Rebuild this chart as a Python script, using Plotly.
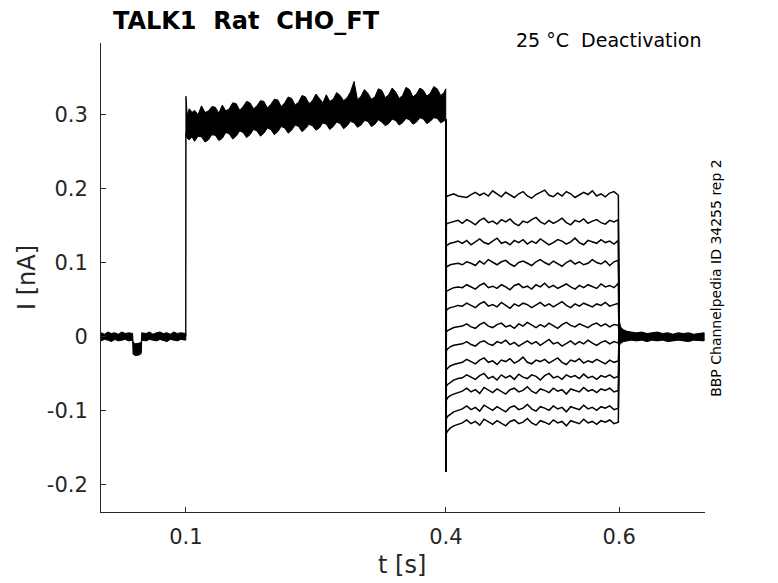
"""TALK1 Rat CHO_FT 失活电流记录 (Plotly)"""
import numpy as np
import plotly.graph_objects as go

# ---- data (time in ms, current in pA; plotted as s and nA) ----
# holding baseline band, with the small test pulse dip
t_base_ms = [2, 6, 10, 14, 18, 22, 26, 30, 34, 38.5,
             39, 42, 46, 48.5, 49, 54, 58, 62, 66, 70,
             74, 78, 82, 86, 90, 94, 99.8]
base_hi = [5, 3, 6, 4, 5, 3, 6, 4, 5, 4,
           -8, -10, -9, -8, 5, 4, 6, 3, 5, 6,
           4, 5, 3, 6, 4, 5, 4]
base_lo = [-6, -4, -5, -7, -4, -6, -5, -4, -6, -5,
           -24, -26, -25, -23, -5, -6, -4, -5, -6, -4,
           -5, -7, -4, -5, -6, -4, -5]

# activating pulse band (all sweeps overlap here)
t_pulse_ms = [99.8, 100, 101.5, 104, 107,
              110, 114, 118, 122, 126, 130, 134, 138, 142, 146,
              150, 154, 158, 162, 166, 170, 174, 178, 182, 186,
              190, 194, 198, 202, 206, 210, 214, 218, 222, 226,
              230, 234, 238, 242, 246, 250, 254, 258, 262, 266,
              270, 274, 278, 282, 286, 290, 294, 298, 302, 306,
              310, 314, 318, 322, 326, 330, 334, 338, 342, 346,
              350, 354, 358, 362, 366, 370, 374, 378, 382, 386,
              390, 394, 398, 399.8]
pulse_hi = [0, 325, 300, 308, 303,
            306, 300, 312, 303, 305, 311, 310, 302, 313, 305,
            308, 316, 315, 306, 311, 318, 316, 308, 312, 319,
            318, 309, 314, 321, 320, 311, 316, 324, 322, 313,
            317, 326, 324, 315, 319, 328, 322, 316, 327, 318,
            321, 330, 326, 319, 323, 331, 345, 320, 325, 334,
            329, 321, 324, 335, 333, 323, 327, 336, 331, 322,
            326, 337, 334, 324, 328, 336, 333, 325, 329, 338,
            335, 326, 330, 335]
pulse_lo = [0, 275, 268, 266, 270,
            264, 271, 270, 263, 266, 273, 272, 265, 268, 276,
            274, 267, 271, 278, 276, 269, 273, 280, 278, 271,
            275, 282, 280, 273, 277, 284, 282, 275, 279, 286,
            284, 277, 281, 287, 285, 279, 282, 289, 287, 280,
            284, 290, 288, 281, 285, 291, 289, 283, 286, 292,
            291, 284, 287, 293, 290, 285, 288, 294, 292, 286,
            289, 295, 293, 287, 290, 296, 294, 288, 291, 296,
            295, 289, 292, 293]

step_spike_pA = -183   # capacitive spike at the start of the test steps
tail_start_pA = 3

# test steps (13 sweeps)
t_test_ms = [400.5, 402, 405, 409, 414,
             419, 424, 429, 434, 439, 444, 449, 454, 459, 464,
             469, 474, 479, 484, 489, 494, 499, 504, 509, 514,
             519, 524, 529, 534, 539, 544, 549, 554, 559, 564,
             569, 574, 579, 584, 589, 594, 599]
test_sweeps = [
    [189, 190, 191, 193, 190,
     189, 188, 192, 195, 191, 194, 190, 197, 193, 189,
     195, 191, 188, 193, 196, 190, 187, 192, 195, 198,
     191, 189, 194, 190, 196, 193, 188, 191, 195, 192,
     197, 190, 193, 189, 194, 196, 191],
    [152, 153, 154, 155, 157,
     153, 158, 155, 151, 157, 160, 154, 156, 152, 158,
     155, 159, 153, 150, 156, 154, 158, 161, 155, 152,
     157, 153, 156, 160, 154, 151, 157, 155, 159, 153,
     156, 158, 154, 152, 157, 155, 158],
    [123, 124, 126, 127, 129,
     126, 130, 124, 128, 132, 127, 125, 129, 133, 126,
     128, 124, 130, 127, 131, 125, 129, 126, 132, 128,
     124, 127, 131, 129, 125, 128, 133, 127, 124, 130,
     128, 126, 131, 127, 129, 125, 130],
    [94, 95, 97, 98, 99,
     97, 101, 99, 96, 102, 98, 104, 100, 97, 101,
     103, 98, 95, 100, 102, 99, 96, 101, 104, 100,
     97, 102, 99, 95, 100, 103, 98, 101, 97, 99,
     104, 100, 98, 102, 96, 101, 103],
    [61, 62, 64, 66, 67,
     66, 70, 67, 64, 69, 72, 66, 68, 65, 70,
     67, 63, 69, 71, 66, 68, 64, 70, 67, 72,
     66, 69, 65, 68, 71, 67, 64, 69, 66, 70,
     68, 65, 71, 67, 69, 66, 72],
    [35, 37, 39, 40, 42,
     41, 45, 42, 39, 44, 47, 41, 43, 40, 46,
     42, 38, 44, 41, 45, 43, 39, 42, 46, 41,
     44, 40, 43, 47, 42, 39, 44, 41, 45, 43,
     40, 44, 42, 46, 41, 43, 45],
    [6, 8, 10, 12, 13,
     14, 17, 13, 11, 16, 19, 14, 12, 16, 18,
     13, 15, 11, 17, 14, 19, 15, 12, 16, 13,
     18, 14, 11, 16, 19, 15, 13, 17, 14, 12,
     16, 18, 14, 17, 13, 16, 15],
    [-19, -17, -14, -12, -11,
     -10, -7, -11, -13, -8, -6, -10, -12, -7, -9,
     -5, -11, -8, -13, -9, -6, -10, -7, -12, -8,
     -4, -10, -8, -13, -9, -6, -11, -7, -10, -5,
     -9, -12, -8, -6, -10, -7, -9],
    [-45, -43, -40, -38, -36,
     -35, -31, -34, -37, -32, -29, -35, -33, -38, -32,
     -34, -30, -36, -33, -28, -35, -37, -32, -34, -31,
     -36, -33, -29, -35, -38, -32, -34, -30, -36, -33,
     -35, -31, -34, -37, -32, -35, -33],
    [-67, -65, -62, -59, -57,
     -56, -52, -55, -58, -53, -50, -57, -54, -59, -52,
     -56, -53, -58, -51, -55, -57, -52, -54, -59, -53,
     -50, -56, -54, -58, -52, -55, -53, -57, -51, -56,
     -54, -58, -53, -55, -52, -56, -54],
    [-86, -83, -80, -78, -76,
     -74, -70, -75, -72, -77, -69, -73, -76, -71, -74,
     -78, -72, -70, -75, -73, -68, -74, -77, -71, -73,
     -76, -70, -74, -72, -78, -71, -73, -75, -69, -74,
     -72, -76, -71, -73, -70, -75, -73],
    [-111, -108, -105, -102, -100,
     -98, -94, -99, -96, -101, -93, -97, -100, -95, -98,
     -102, -96, -94, -99, -97, -92, -98, -101, -95, -97,
     -100, -94, -98, -96, -102, -95, -97, -99, -93, -98,
     -96, -100, -95, -97, -94, -99, -97],
    [-131, -128, -124, -121, -119,
     -117, -113, -118, -115, -120, -112, -116, -119, -114, -117,
     -121, -115, -113, -118, -116, -111, -117, -120, -114, -116,
     -119, -113, -117, -115, -121, -114, -116, -118, -112, -117,
     -115, -119, -114, -116, -113, -118, -116],
]

# tail after returning to holding potential
t_tail_ms = [600.2, 602, 605, 609, 614, 620, 626, 632, 638, 644,
             650, 656, 662, 668, 674, 680, 686, 692, 698]
tail_hi = [20, 12, 9, 7, 6, 5, 6, 4, 5, 6, 4, 5, 3, 5, 4, 5, 3, 4, 5]
tail_lo = [-12, -9, -7, -6, -5, -6, -5, -7, -5, -6, -5, -7, -6, -5, -6, -7, -5, -6, -6]

x_ticks = [0.1, 0.4, 0.6]
y_ticks = [-0.2, -0.1, 0, 0.1, 0.2, 0.3]

FONT = "DejaVu Sans"
AX = "#262626"


def band(t_ms, hi, lo):
    """上下包络围成的噪声带"""
    t = np.array(t_ms) / 1000
    x = np.concatenate([t, t[::-1]])
    y = np.concatenate([np.array(hi), np.array(lo)[::-1]]) / 1000
    return go.Scatter(x=x, y=y, mode="lines", fill="toself", fillcolor="black",
                      line=dict(color="black", width=1), hoverinfo="skip")


fig = go.Figure()
fig.add_trace(band(t_base_ms, base_hi, base_lo))
fig.add_trace(band(t_pulse_ms, pulse_hi, pulse_lo))
fig.add_trace(band(t_tail_ms, tail_hi, tail_lo))

for sweep in test_sweeps:
    x = np.array([400] * 2 + t_test_ms + [600]) / 1000
    y = np.array([pulse_lo[-1], step_spike_pA] + sweep + [tail_start_pA]) / 1000
    fig.add_trace(go.Scatter(x=x, y=y, mode="lines",
                             line=dict(color="black", width=1.5)))

# 页面 body 自带 8px 边距，这里整体收缩补偿
fig.update_layout(
    width=762, height=575,
    margin=dict(l=93, r=65, t=35, b=71),
    plot_bgcolor="white", paper_bgcolor="white",
    showlegend=False,
    font=dict(family=FONT, color=AX),
    title=dict(text="<b>TALK1\u00a0\u00a0Rat\u00a0\u00a0CHO_FT</b>",
               font=dict(family=FONT, size=24, color="black"),
               xref="paper", x=0.24, xanchor="center",
               yref="container", y=1 - 13 / 575, yanchor="middle"),
)
fig.update_xaxes(
    range=[0.002, 0.699], tickvals=x_ticks, ticktext=["0.1", "0.4", "0.6"],
    ticks="inside", ticklen=5, tickcolor=AX, showline=True, linecolor=AX,
    linewidth=1, showgrid=False, zeroline=False, tickfont=dict(size=21),
    ticklabelstandoff=6, automargin=False,
)
fig.update_yaxes(
    range=[-0.2375, 0.397], tickvals=y_ticks,
    ticktext=["-0.2", "-0.1", "0", "0.1", "0.2", "0.3"],
    ticks="inside", ticklen=5, tickcolor=AX, showline=True, linecolor=AX,
    linewidth=1, showgrid=False, zeroline=False, tickfont=dict(size=21),
    ticklabelstandoff=8, automargin=False,
    title=dict(text="I [nA]", font=dict(size=24), standoff=4),
)

# x 轴标题用注释放置，位置更可控
fig.add_annotation(text="t [s]", xref="paper", yref="paper",
                   x=0.498, y=-0.112, xanchor="center", yanchor="middle",
                   showarrow=False, font=dict(family=FONT, size=24, color=AX))
fig.add_annotation(text="25 °C\u00a0\u00a0Deactivation", xref="paper", yref="paper",
                   x=0.997, y=1.006, xanchor="right", yanchor="middle",
                   showarrow=False, font=dict(family=FONT, size=19, color="black"))
fig.add_annotation(text="BBP Channelpedia ID 34255 rep 2", xref="paper", yref="paper",
                   x=1.018, y=0.499, xanchor="center", yanchor="middle", textangle=-90,
                   showarrow=False, font=dict(family=FONT, size=14, color="black"))

fig.write_html("out.html")
